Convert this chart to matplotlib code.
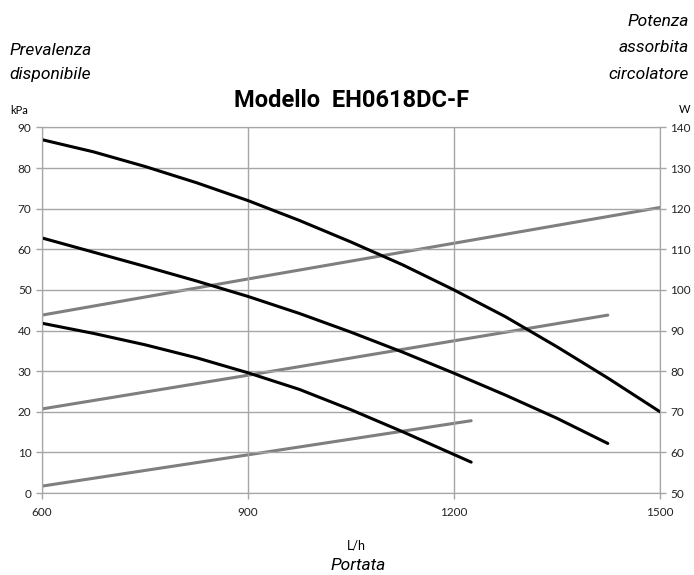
import matplotlib

matplotlib.use("Agg")
import matplotlib.pyplot as plt

# head curves (kPa, left axis)
flow_h1 = [600, 675, 750, 825, 900, 975, 1050, 1125, 1200, 1275, 1350, 1425, 1500]
head_h1 = [87, 84.0, 80.4, 76.4, 72, 67.1, 61.8, 56.2, 50, 43.4, 36.0, 28.2, 20]
flow_h2 = [600, 675, 750, 825, 900, 975, 1050, 1125, 1200, 1275, 1350, 1424]
head_h2 = [62.8, 59.3, 55.8, 52.2, 48.4, 44.2, 39.6, 34.7, 29.5, 24.1, 18.4, 12.2]
flow_h3 = [600, 675, 750, 825, 900, 975, 1050, 1125, 1225]
head_h3 = [41.8, 39.3, 36.5, 33.3, 29.6, 25.5, 20.5, 15.1, 7.6]

# power curves (W, right axis)
flow_p1 = [600, 900, 1200, 1500]
power_p1 = [93.8, 102.7, 111.5, 120.3]
flow_p2 = [600, 900, 1424]
power_p2 = [70.7, 79.0, 93.8]
flow_p3 = [600, 900, 1225]
power_p3 = [51.7, 59.4, 67.8]

x_ticks = [600, 900, 1200, 1500]
kpa_ticks = list(range(0, 91, 10))
w_ticks = list(range(50, 141, 10))

TICK_FONT = ["Lato", "DejaVu Sans"]
LABEL_FONT = ["Roboto", "DejaVu Sans"]
GRID = "#a6a6a6"

fig = plt.figure(figsize=(6.94, 5.75), dpi=100)
ax = fig.add_axes([0.0605, 0.1426, 0.8905, 0.6357])
ax2 = ax.twinx()

ax.set_xlim(600, 1500)
ax.set_ylim(0, 90)
ax2.set_ylim(50, 140)
ax.set_xticks(x_ticks)
ax.set_yticks(kpa_ticks)
ax2.set_yticks(w_ticks)
ax.grid(True, color=GRID, lw=1)
ax.set_axisbelow(True)

for a in (ax, ax2):
    for s in a.spines.values():
        s.set_color(GRID)
    a.tick_params(colors=GRID, length=4, width=1, labelcolor="#222222", labelsize=8.5)
    for lab in a.get_xticklabels() + a.get_yticklabels():
        lab.set_family(TICK_FONT)
ax.tick_params(axis="x", pad=6)

for fx, py in ((flow_p1, power_p1), (flow_p2, power_p2), (flow_p3, power_p3)):
    ax2.plot(fx, py, color="#7f7f7f", lw=2.2, solid_capstyle="round")
for fx, hy in ((flow_h1, head_h1), (flow_h2, head_h2), (flow_h3, head_h3)):
    ax.plot(fx, hy, color="black", lw=2.2, solid_capstyle="round",
            solid_joinstyle="round")
ax.set_zorder(ax2.get_zorder() + 1)
ax.patch.set_visible(False)

fig.text(0.506, 0.826, "Modello  EH0618DC-F", ha="center", va="center",
         fontsize=17, fontweight="bold", family=LABEL_FONT)
fig.text(0.013, 0.913, "Prevalenza", ha="left", va="center", fontsize=12.5,
         style="italic", family=LABEL_FONT)
fig.text(0.013, 0.870, "disponibile", ha="left", va="center", fontsize=12.5,
         style="italic", family=LABEL_FONT)
fig.text(0.992, 0.962, "Potenza", ha="right", va="center", fontsize=12.5,
         style="italic", family=LABEL_FONT)
fig.text(0.992, 0.918, "assorbita", ha="right", va="center", fontsize=12.5,
         style="italic", family=LABEL_FONT)
fig.text(0.992, 0.870, "circolatore", ha="right", va="center", fontsize=12.5,
         style="italic", family=LABEL_FONT)
fig.text(0.027, 0.807, "kPa", ha="center", va="center", fontsize=8, family=TICK_FONT)
fig.text(0.986, 0.809, "W", ha="center", va="center", fontsize=8, family=TICK_FONT)
fig.text(0.514, 0.052, "L/h", ha="center", va="center", fontsize=9, family=TICK_FONT)
fig.text(0.516, 0.016, "Portata", ha="center", va="center", fontsize=12.5,
         style="italic", family=LABEL_FONT)

fig.savefig("out.png", dpi=100)
